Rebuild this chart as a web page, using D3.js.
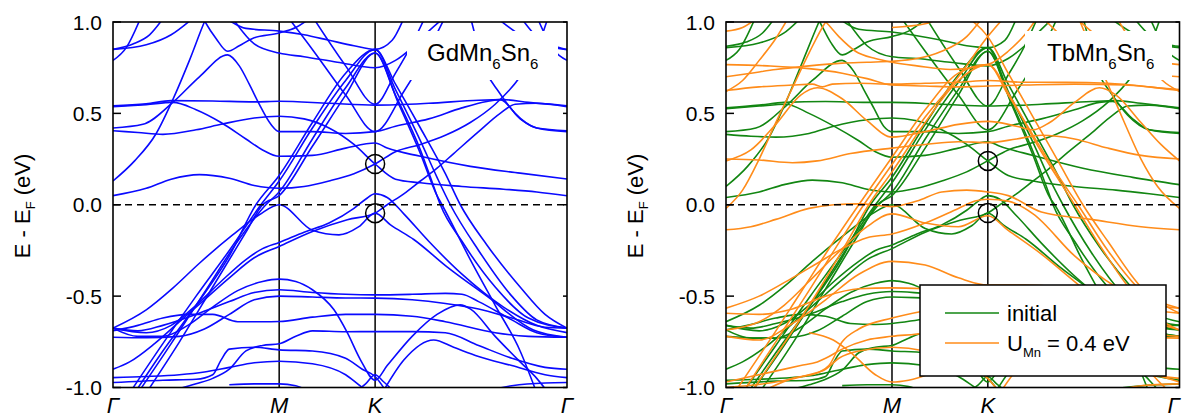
<!DOCTYPE html>
<html>
<head>
<meta charset="utf-8">
<script src="https://cdn.jsdelivr.net/npm/d3@7"></script>
<style>
  html, body { margin: 0; padding: 0; background: #fff; }
  svg { display: block; }
  text { font-family: Arial, "Liberation Sans", Helvetica, sans-serif; fill: #000; }
</style>
</head>
<body>
<svg id="chart" width="1182" height="420"></svg>
<script>
// High-symmetry points along the path (reciprocal-space distance, units of |ΓM|)
const kPoints = [0, 1, 1.5774, 2.7321];
const kLabels = ["Γ", "M", "K", "Γ"];
const energyTicks = [-1, -0.5, 0, 0.5, 1];
const energyTickLabels = ["-1.0", "-0.5", "0.0", "0.5", "1.0"];

// Crossing points at K marked with circles (eV)
const crossingsGd = [0.223, -0.046];
const crossingsTb = [0.24, -0.045];

// GdMn6Sn6 bands: each band is a list of [k, E - E_F]
const bandsGd = [
  [[0,0.79],[0.08,0.86],[0.17,1.03]],
  [[0,0.85],[0.12,0.88],[0.22,0.93],[0.31,1.03]],
  [[0,0.85],[0.2,0.875],[0.35,0.93],[0.48,1.02]],
  [[0,0.542],[0.2,0.552],[0.35,0.57],[0.6,0.568],[0.85,0.563],[1,0.566],[1.3,0.555],[1.577,0.545],[1.9,0.555],[2.2,0.572],[2.35,0.575],[2.5,0.56],[2.732,0.542]],
  [[0,0.536],[0.2,0.548],[0.36,0.56],[0.5,0.52],[0.65,0.45],[0.8,0.36],[0.9,0.3],[1,0.265],[1.2,0.27],[1.4,0.31],[1.577,0.338],[1.65,0.31],[1.85,0.265],[2.15,0.21],[2.45,0.173],[2.732,0.141]],
  [[0,0.42],[0.18,0.44],[0.36,0.56],[0.52,0.7],[0.69,0.82],[0.76,0.76],[0.82,0.66],[0.88,0.55],[0.95,0.44],[1,0.4],[1.2,0.4],[1.4,0.39],[1.577,0.4],[1.7,0.43],[1.9,0.47],[2.1,0.53],[2.25,0.565],[2.33,0.575],[2.45,0.47],[2.55,0.42],[2.732,0.405]],
  [[0,0.13],[0.13,0.24],[0.26,0.39],[0.36,0.575],[0.46,0.79],[0.55,1],[0.6,1.1]],
  [[0.5,1.1],[0.555,1],[0.62,0.91],[0.69,0.84],[0.76,0.87],[0.84,0.91],[1,0.94],[1.1,0.97],[1.2,1.03]],
  [[0.68,1.02],[0.8,0.965],[1,0.95],[1.15,0.93],[1.3,0.9],[1.45,0.87],[1.577,0.85],[1.68,0.9],[1.75,1.02]],
  [[0.72,1.02],[0.85,0.88],[1,0.83],[1.15,0.81],[1.35,0.78],[1.577,0.75],[1.7,0.79],[1.8,0.86],[1.9,0.95],[2,1.03]],
  [[0,0.405],[0.15,0.395],[0.3,0.385],[0.5,0.41],[0.65,0.44],[0.85,0.475],[1,0.484],[1.15,0.47],[1.3,0.42],[1.45,0.33],[1.577,0.223],[1.7,0.14],[1.85,0.12],[2.1,0.1],[2.35,0.085],[2.55,0.07],[2.732,0.049]],
  [[0,0.05],[0.2,0.09],[0.35,0.14],[0.52,0.165],[0.7,0.145],[0.85,0.105],[1,0.09],[1.15,0.1],[1.3,0.13],[1.45,0.17],[1.577,0.223],[1.7,0.29],[1.85,0.33],[2,0.38],[2.15,0.45],[2.3,0.55],[2.45,0.7],[2.55,0.85],[2.62,1.03]],
  [[2.15,1.03],[2.25,0.72],[2.32,0.62],[2.42,0.5],[2.55,0.42],[2.732,0.4]],
  [[2.45,1.03],[2.55,0.92],[2.65,0.87],[2.732,0.849]],
  [[2.3,1.03],[2.45,0.93],[2.6,0.87],[2.732,0.849]],
  [[2.55,1.03],[2.65,0.85],[2.732,0.79]],
  [[1.05,1.03],[1.2,0.85],[1.4,0.6],[1.577,0.4],[1.75,0.62],[1.9,0.85],[2,1.03]],
  [[1.2,1.03],[1.4,0.76],[1.577,0.55],[1.7,0.72],[1.8,0.88],[1.88,1.03]],
  [[0.1,-1.03],[0.3,-0.76],[0.5,-0.5],[0.7,-0.25],[0.89,0],[1,0.13],[1.2,0.42],[1.4,0.68],[1.577,0.85],[1.7,0.63],[1.85,0.35],[1.95,0.15],[2.03,0],[2.2,-0.25],[2.4,-0.5],[2.55,-0.63],[2.732,-0.675]],
  [[0.15,-1.03],[0.35,-0.76],[0.55,-0.48],[0.75,-0.2],[0.92,0],[1,0.07],[1.2,0.36],[1.4,0.64],[1.577,0.83],[1.7,0.6],[1.85,0.3],[1.93,0.1],[1.97,0],[2.1,-0.2],[2.3,-0.45],[2.5,-0.62],[2.732,-0.675]],
  [[0.2,-1.03],[0.4,-0.75],[0.6,-0.45],[0.8,-0.15],[0.9,0],[1,0.05],[1.2,0.32],[1.4,0.6],[1.577,0.83],[1.72,0.55],[1.85,0.28],[1.95,0.05],[1.98,0],[2.15,-0.3],[2.3,-0.55],[2.45,-0.8],[2.55,-1.03]],
  [[0.13,-1.03],[0.3,-0.8],[0.5,-0.55],[0.7,-0.28],[0.86,0],[1,0.16],[1.2,0.45],[1.4,0.72],[1.577,0.849],[1.7,0.66],[1.85,0.42],[2,0.17],[2.09,0],[2.25,-0.22],[2.45,-0.45],[2.6,-0.6],[2.732,-0.675]],
  [[0,-0.675],[0.2,-0.575],[0.36,-0.456],[0.52,-0.32],[0.72,-0.165],[0.88,-0.055],[1,0],[1.2,-0.14],[1.36,-0.165],[1.48,-0.12],[1.577,-0.046],[1.67,-0.11],[1.81,-0.19],[2.01,-0.34],[2.25,-0.5],[2.53,-0.685],[2.732,-0.725]],
  [[0,-0.9],[0.1,-0.86],[0.25,-0.76],[0.4,-0.64],[0.55,-0.52],[0.7,-0.4],[0.85,-0.29],[1,-0.228],[1.2,-0.146],[1.41,-0.082],[1.577,-0.046],[1.65,0],[1.75,0.06],[1.85,0.13],[1.95,0.2],[2.05,0.28],[2.2,0.4],[2.33,0.5],[2.42,0.55],[2.55,0.555],[2.732,0.536]],
  [[0,-0.675],[0.2,-0.7],[0.35,-0.66],[0.5,-0.55],[0.65,-0.42],[0.8,-0.3],[0.9,-0.24],[1,-0.206],[1.15,-0.15],[1.3,-0.1],[1.45,-0.02],[1.52,0.03],[1.577,0.06],[1.65,0.04],[1.75,-0.05],[1.9,-0.2],[2.1,-0.38],[2.35,-0.56],[2.55,-0.66],[2.732,-0.7]],
  [[0,-0.675],[0.15,-0.72],[0.3,-0.72],[0.45,-0.66],[0.6,-0.56],[0.75,-0.47],[0.9,-0.42],[1,-0.407],[1.1,-0.42],[1.2,-0.465],[1.33,-0.575],[1.41,-0.7],[1.49,-0.85],[1.577,-0.96],[1.65,-0.88],[1.8,-0.72],[1.95,-0.6],[2.09,-0.548],[2.15,-0.57],[2.3,-0.72],[2.45,-0.86],[2.55,-0.95],[2.62,-1.03]],
  [[0,-0.725],[0.2,-0.728],[0.4,-0.72],[0.55,-0.68],[0.7,-0.6],[0.85,-0.52],[1,-0.5],[1.2,-0.505],[1.4,-0.51],[1.577,-0.511],[1.8,-0.52],[2,-0.54],[2.2,-0.57],[2.4,-0.62],[2.6,-0.67],[2.732,-0.675]],
  [[0,-0.675],[0.15,-0.69],[0.3,-0.66],[0.5,-0.6],[0.7,-0.53],[0.85,-0.48],[1,-0.465],[1.2,-0.48],[1.4,-0.49],[1.577,-0.493],[1.8,-0.49],[2,-0.485],[2.1,-0.49],[2.2,-0.53],[2.4,-0.63],[2.55,-0.7],[2.732,-0.725]],
  [[0,-0.69],[0.15,-0.66],[0.3,-0.62],[0.45,-0.6],[0.6,-0.6],[0.75,-0.64],[0.9,-0.64],[1,-0.639],[1.2,-0.615],[1.4,-0.6],[1.577,-0.6],[1.8,-0.61],[2,-0.64],[2.3,-0.7],[2.5,-0.72],[2.732,-0.725]],
  [[0.3,-1.03],[0.5,-0.98],[0.6,-0.95],[0.7,-0.9],[0.8,-0.8],[0.9,-0.77],[1,-0.761],[1.1,-0.72],[1.2,-0.69],[1.4,-0.695],[1.577,-0.694],[1.8,-0.694],[2,-0.7],[2.2,-0.77],[2.4,-0.84],[2.6,-0.89],[2.732,-0.9]],
  [[0,-0.973],[0.3,-0.96],[0.5,-0.955],[0.6,-0.93],[0.65,-0.85],[0.7,-0.79],[0.85,-0.78],[1,-0.794],[1.2,-0.8],[1.4,-0.84],[1.5,-0.9],[1.577,-0.94],[1.65,-1.03]],
  [[0,-0.946],[0.2,-0.94],[0.4,-0.93],[0.55,-0.915],[0.7,-0.89],[0.85,-0.865],[1,-0.856],[1.2,-0.87],[1.4,-0.93],[1.5,-1],[1.55,-1.03]],
  [[0.7,-0.985],[0.85,-0.98],[1,-0.98],[1.1,-0.99],[1.2,-1.03]],
  [[1.62,-1.03],[1.75,-0.85],[1.93,-0.74],[2.05,-0.78],[2.2,-0.83],[2.4,-0.88],[2.6,-0.93],[2.732,-0.946]],
  [[2.2,-1.03],[2.4,-0.99],[2.6,-0.975],[2.732,-0.973]],
  [[1.45,-1.03],[1.52,-0.98],[1.577,-0.93],[1.63,-0.97],[1.7,-1.03]]
];

// TbMn6Sn6, initial calculation
const bandsTbInitial = [
  [[0,0.79],[0.08,0.85],[0.18,1.03]],
  [[0,0.867],[0.12,0.89],[0.22,0.94],[0.3,1.03]],
  [[0,0.86],[0.2,0.885],[0.35,0.94],[0.46,1.03]],
  [[0,0.53],[0.2,0.545],[0.35,0.56],[0.6,0.565],[0.85,0.56],[1,0.56],[1.3,0.55],[1.577,0.54],[1.9,0.55],[2.2,0.565],[2.35,0.57],[2.5,0.555],[2.732,0.53]],
  [[0,0.525],[0.2,0.54],[0.36,0.55],[0.5,0.5],[0.65,0.43],[0.8,0.35],[0.9,0.29],[1,0.26],[1.2,0.27],[1.4,0.31],[1.577,0.345],[1.65,0.32],[1.85,0.27],[2.15,0.2],[2.45,0.15],[2.732,0.11]],
  [[0,0.4],[0.18,0.42],[0.36,0.54],[0.52,0.68],[0.7,0.79],[0.77,0.73],[0.83,0.63],[0.89,0.53],[0.95,0.43],[1,0.4],[1.2,0.4],[1.4,0.39],[1.577,0.4],[1.7,0.43],[1.9,0.47],[2.1,0.52],[2.25,0.56],[2.33,0.565],[2.45,0.47],[2.55,0.41],[2.732,0.395]],
  [[0,0.1],[0.13,0.21],[0.26,0.37],[0.36,0.56],[0.46,0.78],[0.56,1],[0.61,1.1]],
  [[0.5,1.1],[0.565,1],[0.63,0.89],[0.7,0.82],[0.77,0.85],[0.85,0.89],[1,0.92],[1.1,0.95],[1.22,1.03]],
  [[0.68,1.02],[0.8,0.96],[1,0.945],[1.15,0.925],[1.3,0.9],[1.45,0.87],[1.577,0.86],[1.68,0.9],[1.75,1.02]],
  [[0.72,1.02],[0.85,0.87],[1,0.81],[1.15,0.8],[1.35,0.78],[1.577,0.76],[1.7,0.8],[1.8,0.87],[1.9,0.96],[1.98,1.03]],
  [[0,0.385],[0.15,0.375],[0.3,0.37],[0.5,0.39],[0.65,0.43],[0.85,0.465],[1,0.475],[1.15,0.46],[1.3,0.41],[1.45,0.33],[1.577,0.24],[1.7,0.16],[1.85,0.13],[2.1,0.1],[2.35,0.08],[2.55,0.06],[2.732,0.04]],
  [[0,0.04],[0.2,0.07],[0.35,0.11],[0.52,0.135],[0.7,0.12],[0.85,0.085],[1,0.07],[1.15,0.09],[1.3,0.13],[1.45,0.18],[1.577,0.24],[1.7,0.3],[1.85,0.34],[2,0.39],[2.15,0.46],[2.3,0.56],[2.45,0.71],[2.55,0.86],[2.62,1.03]],
  [[2.15,1.03],[2.25,0.71],[2.32,0.61],[2.42,0.49],[2.55,0.41],[2.732,0.39]],
  [[2.45,1.03],[2.55,0.93],[2.65,0.88],[2.732,0.867]],
  [[2.3,1.03],[2.45,0.94],[2.6,0.88],[2.732,0.86]],
  [[2.55,1.03],[2.65,0.85],[2.732,0.79]],
  [[1.05,1.03],[1.2,0.84],[1.4,0.6],[1.577,0.41],[1.75,0.62],[1.9,0.84],[2,1.03]],
  [[1.2,1.03],[1.4,0.75],[1.577,0.54],[1.7,0.71],[1.8,0.87],[1.88,1.03]],
  [[0.1,-1.03],[0.3,-0.77],[0.5,-0.51],[0.7,-0.26],[0.9,0],[1,0.12],[1.2,0.41],[1.4,0.67],[1.577,0.86],[1.7,0.62],[1.85,0.34],[1.95,0.14],[2.03,0],[2.2,-0.26],[2.4,-0.5],[2.55,-0.62],[2.732,-0.66]],
  [[0.15,-1.03],[0.35,-0.77],[0.55,-0.49],[0.75,-0.21],[0.92,0],[1,0.07],[1.2,0.36],[1.4,0.63],[1.577,0.84],[1.7,0.6],[1.85,0.29],[1.93,0.1],[1.97,0],[2.1,-0.2],[2.3,-0.45],[2.5,-0.62],[2.732,-0.685]],
  [[0.2,-1.03],[0.4,-0.76],[0.6,-0.46],[0.8,-0.16],[0.91,0],[1,0.05],[1.2,0.31],[1.4,0.6],[1.577,0.84],[1.72,0.55],[1.85,0.27],[1.95,0.04],[1.98,0],[2.15,-0.31],[2.3,-0.56],[2.45,-0.81],[2.55,-1.03]],
  [[0.13,-1.03],[0.3,-0.81],[0.5,-0.56],[0.7,-0.29],[0.87,0],[1,0.15],[1.2,0.44],[1.4,0.71],[1.577,0.86],[1.7,0.66],[1.85,0.41],[2,0.16],[2.09,0],[2.25,-0.23],[2.45,-0.46],[2.6,-0.6],[2.732,-0.64]],
  [[0,-0.64],[0.2,-0.55],[0.36,-0.44],[0.52,-0.31],[0.72,-0.16],[0.88,-0.05],[1,0],[1.2,-0.13],[1.36,-0.16],[1.48,-0.115],[1.577,-0.045],[1.67,-0.11],[1.81,-0.19],[2.01,-0.34],[2.25,-0.5],[2.53,-0.68],[2.732,-0.72]],
  [[0,-0.9],[0.1,-0.86],[0.25,-0.77],[0.4,-0.65],[0.55,-0.53],[0.7,-0.41],[0.85,-0.3],[1,-0.24],[1.2,-0.15],[1.41,-0.085],[1.577,-0.045],[1.65,0],[1.75,0.06],[1.85,0.13],[1.95,0.2],[2.05,0.28],[2.2,0.39],[2.33,0.49],[2.42,0.54],[2.55,0.545],[2.732,0.525]],
  [[0,-0.66],[0.2,-0.69],[0.35,-0.65],[0.5,-0.55],[0.65,-0.42],[0.8,-0.31],[0.9,-0.25],[1,-0.22],[1.15,-0.16],[1.3,-0.11],[1.45,-0.03],[1.52,0.02],[1.577,0.05],[1.65,0.03],[1.75,-0.06],[1.9,-0.21],[2.1,-0.39],[2.35,-0.57],[2.55,-0.66],[2.732,-0.685]],
  [[0,-0.685],[0.15,-0.73],[0.3,-0.73],[0.45,-0.67],[0.6,-0.57],[0.75,-0.48],[0.9,-0.43],[1,-0.415],[1.1,-0.43],[1.2,-0.47],[1.33,-0.58],[1.41,-0.71],[1.49,-0.86],[1.577,-0.97],[1.65,-0.89],[1.8,-0.73],[1.95,-0.61],[2.09,-0.555],[2.15,-0.58],[2.3,-0.73],[2.45,-0.87],[2.55,-0.96],[2.62,-1.03]],
  [[0,-0.72],[0.2,-0.73],[0.4,-0.725],[0.55,-0.69],[0.7,-0.61],[0.85,-0.53],[1,-0.505],[1.2,-0.51],[1.4,-0.515],[1.577,-0.515],[1.8,-0.525],[2,-0.545],[2.2,-0.575],[2.4,-0.625],[2.6,-0.66],[2.732,-0.66]],
  [[0,-0.66],[0.15,-0.675],[0.3,-0.65],[0.5,-0.6],[0.7,-0.53],[0.85,-0.49],[1,-0.475],[1.2,-0.485],[1.4,-0.495],[1.577,-0.5],[1.8,-0.495],[2,-0.49],[2.1,-0.495],[2.2,-0.535],[2.4,-0.63],[2.55,-0.69],[2.732,-0.72]],
  [[0,-0.685],[0.15,-0.655],[0.3,-0.62],[0.45,-0.6],[0.6,-0.61],[0.75,-0.65],[0.9,-0.655],[1,-0.65],[1.2,-0.625],[1.4,-0.61],[1.577,-0.61],[1.8,-0.62],[2,-0.65],[2.3,-0.7],[2.5,-0.715],[2.732,-0.72]],
  [[0.3,-1.03],[0.5,-0.985],[0.6,-0.955],[0.7,-0.905],[0.8,-0.81],[0.9,-0.78],[1,-0.77],[1.1,-0.73],[1.2,-0.7],[1.4,-0.705],[1.577,-0.705],[1.8,-0.705],[2,-0.71],[2.2,-0.78],[2.4,-0.85],[2.6,-0.89],[2.732,-0.9]],
  [[0,-0.98],[0.3,-0.965],[0.5,-0.96],[0.6,-0.94],[0.65,-0.86],[0.7,-0.8],[0.85,-0.79],[1,-0.8],[1.2,-0.81],[1.4,-0.85],[1.5,-0.91],[1.577,-0.95],[1.65,-1.03]],
  [[0,-0.96],[0.2,-0.955],[0.4,-0.945],[0.55,-0.93],[0.7,-0.9],[0.85,-0.875],[1,-0.865],[1.2,-0.88],[1.4,-0.94],[1.5,-1],[1.55,-1.03]],
  [[0.7,-0.99],[0.85,-0.985],[1,-0.985],[1.1,-0.995],[1.2,-1.03]],
  [[1.62,-1.03],[1.75,-0.86],[1.93,-0.75],[2.05,-0.79],[2.2,-0.84],[2.4,-0.89],[2.6,-0.94],[2.732,-0.96]],
  [[2.2,-1.03],[2.4,-1.0],[2.6,-0.985],[2.732,-0.98]],
  [[1.45,-1.03],[1.52,-0.985],[1.577,-0.94],[1.63,-0.98],[1.7,-1.03]]
];

// TbMn6Sn6 with U_Mn = 0.4 eV
const bandsTbU = [
  [[0,0.95],[0.1,0.97],[0.2,1.03]],
  [[0,0.767],[0.25,0.76],[0.5,0.745],[0.7,0.72],[0.85,0.69],[1,0.655],[1.2,0.65],[1.4,0.645],[1.577,0.65],[1.8,0.655],[2.1,0.66],[2.4,0.655],[2.6,0.64],[2.732,0.63]],
  [[0,0.7],[0.15,0.72],[0.3,0.74],[0.5,0.76],[0.7,0.775],[0.85,0.78],[1,0.785],[1.15,0.8],[1.3,0.84],[1.45,0.92],[1.55,1.03]],
  [[0,0.625],[0.2,0.645],[0.4,0.655],[0.52,0.66],[0.58,0.645],[0.64,0.66],[0.8,0.665],[1,0.66],[1.2,0.665],[1.4,0.67],[1.577,0.68],[1.8,0.67],[2.05,0.67],[2.3,0.665],[2.55,0.645],[2.732,0.625]],
  [[0,0.62],[0.1,0.68],[0.2,0.79],[0.3,0.91],[0.38,1.03]],
  [[0,-0.02],[0.1,0.08],[0.2,0.25],[0.3,0.45],[0.4,0.64],[0.5,0.83],[0.6,1],[0.64,1.05]],
  [[0.52,1.05],[0.6,1],[0.68,0.92],[0.78,0.84],[0.9,0.8],[1,0.78],[1.15,0.76],[1.35,0.74],[1.577,0.767],[1.7,0.84],[1.8,0.93],[1.88,1.03]],
  [[0,0.25],[0.2,0.245],[0.4,0.23],[0.55,0.24],[0.75,0.28],[1,0.31],[1.2,0.33],[1.4,0.345],[1.577,0.34],[1.75,0.36],[1.9,0.38],[2.1,0.36],[2.3,0.31],[2.5,0.27],[2.732,0.25]],
  [[0,0.24],[0.15,0.3],[0.3,0.44],[0.45,0.6],[0.55,0.64],[0.7,0.58],[0.85,0.46],[1,0.37],[1.2,0.4],[1.4,0.44],[1.577,0.456],[1.75,0.43],[1.85,0.41],[1.95,0.45],[2.1,0.56],[2.25,0.64],[2.35,0.6],[2.5,0.45],[2.62,0.33],[2.732,0.24]],
  [[1.9,1.03],[2.05,0.9],[2.2,0.8],[2.4,0.74],[2.6,0.71],[2.732,0.7]],
  [[2.1,1.03],[2.3,0.88],[2.5,0.8],[2.732,0.767]],
  [[2.35,1.03],[2.43,0.91],[2.53,0.79],[2.63,0.68],[2.732,0.62]],
  [[2.12,1.03],[2.2,0.86],[2.3,0.66],[2.4,0.45],[2.5,0.25],[2.6,0.1],[2.732,-0.02]],
  [[1.0,0.97],[1.2,0.99],[1.3,1.03]],
  [[0,-0.137],[0.15,-0.12],[0.3,-0.08],[0.5,-0.02],[0.65,0],[0.8,0.005],[1,-0.01],[1.15,0.02],[1.3,0.07],[1.45,0.08],[1.577,0.07],[1.7,0.05],[1.9,-0.04],[2.2,-0.08],[2.5,-0.12],[2.732,-0.137]],
  [[0,-0.566],[0.2,-0.5],[0.4,-0.4],[0.55,-0.32],[0.7,-0.24],[0.85,-0.18],[1,-0.16],[1.2,-0.1],[1.4,-0.02],[1.5,0.02],[1.577,0.03],[1.7,0.02],[1.85,-0.05],[2.1,-0.28],[2.35,-0.45],[2.55,-0.54],[2.732,-0.566]],
  [[0.05,-1.03],[0.25,-0.76],[0.45,-0.48],[0.65,-0.2],[0.8,0],[1,0.26],[1.2,0.52],[1.4,0.72],[1.577,0.767],[1.7,0.6],[1.85,0.38],[2,0.16],[2.12,0],[2.3,-0.25],[2.5,-0.47],[2.732,-0.566]],
  [[0.1,-1.03],[0.3,-0.75],[0.5,-0.47],[0.7,-0.18],[0.83,0],[1,0.22],[1.2,0.48],[1.4,0.7],[1.577,0.92],[1.68,1.03]],
  [[1.45,1.03],[1.577,0.92],[1.7,0.72],[1.85,0.48],[2,0.24],[2.15,0],[2.3,-0.2],[2.5,-0.45],[2.732,-0.594]],
  [[0.15,-1.03],[0.35,-0.76],[0.55,-0.48],[0.72,-0.22],[0.86,0],[1,0.18],[1.2,0.45],[1.4,0.68],[1.577,0.767],[1.72,0.58],[1.88,0.32],[2.03,0.1],[2.1,0],[2.25,-0.22],[2.45,-0.48],[2.6,-0.62],[2.732,-0.685]],
  [[0,-0.685],[0.2,-0.64],[0.35,-0.55],[0.5,-0.42],[0.7,-0.24],[0.85,-0.12],[1,-0.05],[1.2,-0.1],[1.4,-0.12],[1.577,-0.06],[1.7,-0.14],[1.9,-0.27],[2.1,-0.42],[2.35,-0.6],[2.55,-0.7],[2.732,-0.72]],
  [[0,-0.594],[0.2,-0.6],[0.4,-0.57],[0.6,-0.5],[0.8,-0.46],[1,-0.455],[1.2,-0.46],[1.4,-0.47],[1.577,-0.47],[1.8,-0.46],[2,-0.47],[2.2,-0.5],[2.45,-0.56],[2.732,-0.594]],
  [[0,-0.72],[0.2,-0.74],[0.4,-0.65],[0.6,-0.52],[0.8,-0.38],[1,-0.31],[1.2,-0.33],[1.4,-0.4],[1.577,-0.44],[1.8,-0.44],[2,-0.45],[2.2,-0.5],[2.45,-0.6],[2.732,-0.685]],
  [[0,-0.97],[0.25,-0.92],[0.45,-0.88],[0.55,-0.86],[0.6,-0.84],[0.7,-0.79],[0.85,-0.74],[1,-0.72],[1.2,-0.7],[1.4,-0.64],[1.577,-0.6],[1.8,-0.61],[2,-0.64],[2.3,-0.7],[2.5,-0.72],[2.732,-0.73]],
  [[0,-1],[0.3,-0.97],[0.5,-0.93],[0.6,-0.9],[0.68,-0.84],[0.8,-0.8],[1,-0.78],[1.2,-0.8],[1.4,-0.86],[1.577,-0.95],[1.65,-1.03]],
  [[0.5,-0.7],[0.646,-0.74],[0.766,-0.82],[0.9,-0.93],[1,-0.97],[1.1,-0.96],[1.3,-0.9],[1.45,-0.85],[1.577,-0.83],[1.75,-0.8],[2,-0.78],[2.3,-0.82],[2.5,-0.9],[2.732,-0.97]],
  [[1.577,-0.9],[1.7,-0.76],[1.85,-0.62],[2,-0.53],[2.1,-0.52],[2.2,-0.58],[2.35,-0.72],[2.5,-0.86],[2.6,-0.96],[2.68,-1.03]],
  [[1.65,-1.03],[1.8,-0.85],[1.95,-0.76],[2.1,-0.8],[2.3,-0.86],[2.5,-0.92],[2.732,-0.95]],
  [[2.3,-1.03],[2.5,-0.99],[2.732,-0.98]],
  [[0.2,-1.03],[0.4,-0.95],[0.55,-0.92],[0.62,-0.88],[0.7,-0.75],[0.8,-0.68],[1,-0.62],[1.2,-0.58],[1.4,-0.55],[1.577,-0.54]]
];

const colors = { gd: "#0a0aff", initial: "#128612", u: "#ff8c1a" };

const svg = d3.select("#chart");
const yTop = 22, yBottom = 387.5;

function drawPanel(opts) {
  const { x0, x1, series, crossings, title, id, axisTitleX, lastLabelEnd } = opts;
  const x = d3.scaleLinear().domain([kPoints[0], kPoints[3]]).range([x0, x1]);
  const y = d3.scaleLinear().domain([-1, 1]).range([yBottom, yTop]);
  const g = svg.append("g");

  g.append("clipPath").attr("id", id)
    .append("rect").attr("x", x0).attr("y", yTop).attr("width", x1 - x0).attr("height", yBottom - yTop);

  const line = d3.line().x(d => x(d[0])).y(d => y(d[1])).curve(d3.curveMonotoneX);

  const plot = g.append("g").attr("clip-path", `url(#${id})`);

  // vertical lines at M and K
  plot.selectAll("line.sym").data(kPoints.slice(1, 3)).join("line")
    .attr("x1", d => x(d)).attr("x2", d => x(d))
    .attr("y1", yTop).attr("y2", yBottom)
    .attr("stroke", "#000").attr("stroke-width", 1.5);

  series.forEach(s => {
    plot.append("g").selectAll("path").data(s.bands).join("path")
      .attr("d", line)
      .attr("fill", "none")
      .attr("stroke", s.color)
      .attr("stroke-width", 1.6)
      .attr("stroke-linejoin", "round");
  });

  // Fermi level
  plot.append("line")
    .attr("x1", x0).attr("x2", x1)
    .attr("y1", y(0)).attr("y2", y(0))
    .attr("stroke", "#000").attr("stroke-width", 1.5)
    .attr("stroke-dasharray", "7,5");

  // crossing markers at K
  plot.selectAll("circle").data(crossings).join("circle")
    .attr("cx", x(kPoints[2])).attr("cy", d => y(d)).attr("r", 9.5)
    .attr("fill", "none").attr("stroke", "#000").attr("stroke-width", 1.5);

  // frame
  g.append("rect").attr("x", x0).attr("y", yTop)
    .attr("width", x1 - x0).attr("height", yBottom - yTop)
    .attr("fill", "none").attr("stroke", "#000").attr("stroke-width", 1.6);

  // y ticks (inside, both sides)
  const ticks = g.append("g");
  ticks.selectAll("line.l").data(energyTicks).join("line")
    .attr("x1", x0).attr("x2", x0 + 8).attr("y1", d => y(d)).attr("y2", d => y(d))
    .attr("stroke", "#000").attr("stroke-width", 1.5);
  ticks.selectAll("line.r").data(energyTicks).enter().append("line")
    .attr("x1", x1 - 4).attr("x2", x1).attr("y1", d => y(d)).attr("y2", d => y(d))
    .attr("stroke", "#000").attr("stroke-width", 1.5);
  ticks.selectAll("text").data(energyTicks).join("text")
    .attr("x", x0 - 11).attr("y", d => y(d) + 7.5)
    .attr("text-anchor", "end").attr("font-size", 21)
    .text((d, i) => energyTickLabels[i]);

  // k labels (the last one kept inside the page when the panel reaches the edge)
  g.selectAll("text.k").data(kPoints).enter().append("text")
    .attr("x", (d, i) => (i === 3 && lastLabelEnd) ? lastLabelEnd : x(d))
    .attr("y", 413)
    .attr("text-anchor", (d, i) => (i === 3 && lastLabelEnd) ? "end" : "middle")
    .attr("font-size", 22).attr("font-style", "italic")
    .text((d, i) => kLabels[i]);

  // axis title
  const t = g.append("text")
    .attr("transform", `translate(${axisTitleX},206) rotate(-90)`)
    .attr("text-anchor", "middle").attr("font-size", 22);
  t.append("tspan").text("E - E");
  t.append("tspan").attr("font-size", 13).attr("dy", 5).text("F");
  t.append("tspan").attr("dy", -5).text(" (eV)");

  // compound label box
  g.append("rect").attr("x", title.bx).attr("y", 31).attr("width", title.bw).attr("height", 49)
    .attr("fill", "#fff");
  const lt = g.append("text").attr("x", title.tx).attr("y", 61).attr("font-size", 24);
  title.parts.forEach(p => {
    if (p.sub) lt.append("tspan").attr("font-size", 15).attr("dy", 8).text(p.text);
    else lt.append("tspan").attr("dy", p.after ? -8 : 0).text(p.text);
  });

  return { x, y, g };
}

drawPanel({
  x0: 113, x1: 567, id: "clipGd", axisTitleX: 30,
  series: [{ bands: bandsGd, color: colors.gd }],
  crossings: crossingsGd,
  title: { bx: 407, bw: 151, tx: 427, parts: [{text:"GdMn"},{text:"6",sub:true},{text:"Sn",after:true},{text:"6",sub:true}] }
});

const right = drawPanel({
  x0: 726, x1: 1179.5, id: "clipTb", axisTitleX: 643, lastLabelEnd: 1180,
  series: [{ bands: bandsTbInitial, color: colors.initial }, { bands: bandsTbU, color: colors.u }],
  crossings: crossingsTb,
  title: { bx: 1025, bw: 147, tx: 1047, parts: [{text:"TbMn"},{text:"6",sub:true},{text:"Sn",after:true},{text:"6",sub:true}] }
});

// legend
const leg = right.g.append("g");
leg.append("rect").attr("x", 920).attr("y", 285).attr("width", 246).attr("height", 91)
  .attr("fill", "#fff").attr("stroke", "#000").attr("stroke-width", 1.5);
const legendItems = [
  { color: colors.initial, label: [{ t: "initial" }] },
  { color: colors.u, label: [{ t: "U" }, { t: "Mn", sub: true }, { t: " = 0.4 eV", back: true }] }
];
legendItems.forEach((it, i) => {
  const ly = 313 + i * 30;
  leg.append("line").attr("x1", 945).attr("x2", 999).attr("y1", ly).attr("y2", ly)
    .attr("stroke", it.color).attr("stroke-width", 1.6);
  const tx = leg.append("text").attr("x", 1007).attr("y", ly + 8).attr("font-size", 22);
  it.label.forEach(p => {
    if (p.sub) tx.append("tspan").attr("font-size", 13).attr("dy", 6).text(p.t);
    else tx.append("tspan").attr("dy", p.back ? -6 : 0).text(p.t);
  });
});
</script>
</body>
</html>
